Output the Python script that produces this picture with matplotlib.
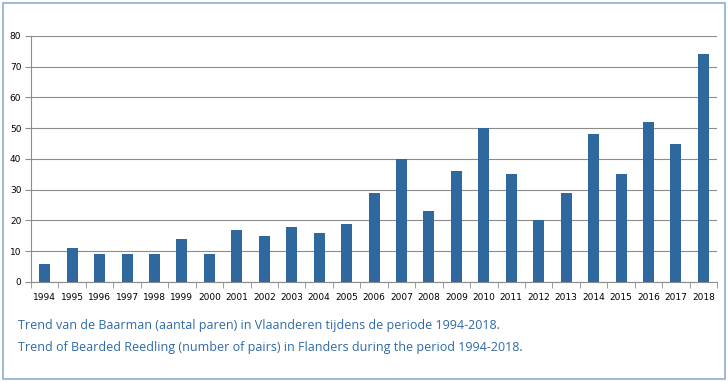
import matplotlib
matplotlib.use("Agg")
import matplotlib.pyplot as plt
from matplotlib.patches import Rectangle
import numpy as np

years = [str(y) for y in range(1994, 2019)]
pairs = [6, 11, 9, 9, 9, 14, 9, 17, 15, 18, 16, 19, 29, 40, 23, 36,
         50, 35, 20, 29, 48, 35, 52, 45, 74]

caption_nl = "Trend van de Baarman (aantal paren) in Vlaanderen tijdens de periode 1994-2018."
caption_en = "Trend of Bearded Reedling (number of pairs) in Flanders during the period 1994-2018."

bar_color = "#2F679F"
text_color = "#2E6AA8"
grid_color = "#8C8C8C"

fig = plt.figure(figsize=(7.28, 3.82), dpi=100)

# light blue frame round the whole picture
fig.patches.append(Rectangle((0.004, 0.008), 0.992, 0.984, transform=fig.transFigure,
                             fill=False, edgecolor="#8FADD0", linewidth=1.2))

ax = fig.add_axes([0.0426, 0.2618, 0.9424, 0.644])
x = np.arange(len(years))
ax.bar(x, pairs, width=0.4, color=bar_color, zorder=3)

ax.set_xlim(-0.5, len(years) - 0.5)
ax.set_ylim(0, 80)
ax.set_yticks(range(0, 81, 10))
ax.set_xticks(x)
ax.set_xticklabels(years)
ax.set_xticks(np.arange(-0.5, len(years), 1), minor=True)

ax.grid(axis="y", color=grid_color, linewidth=0.8, zorder=0)
for side in ["top", "right"]:
    ax.spines[side].set_visible(False)
for side in ["left", "bottom"]:
    ax.spines[side].set_color(grid_color)
    ax.spines[side].set_linewidth(0.8)

ax.tick_params(axis="x", which="major", length=0, labelsize=6.5, pad=8)
ax.tick_params(axis="x", which="minor", length=4, color=grid_color, direction="out")
ax.tick_params(axis="y", length=4, color=grid_color, labelsize=6.5, pad=3)

fig.text(18 / 728, 1 - 325 / 382, caption_nl, color=text_color, fontsize=9,
         family="Open Sans", va="center", ha="left")
fig.text(18 / 728, 1 - 347 / 382, caption_en, color=text_color, fontsize=9,
         family="Open Sans", va="center", ha="left")

fig.savefig("out.png", dpi=100)
